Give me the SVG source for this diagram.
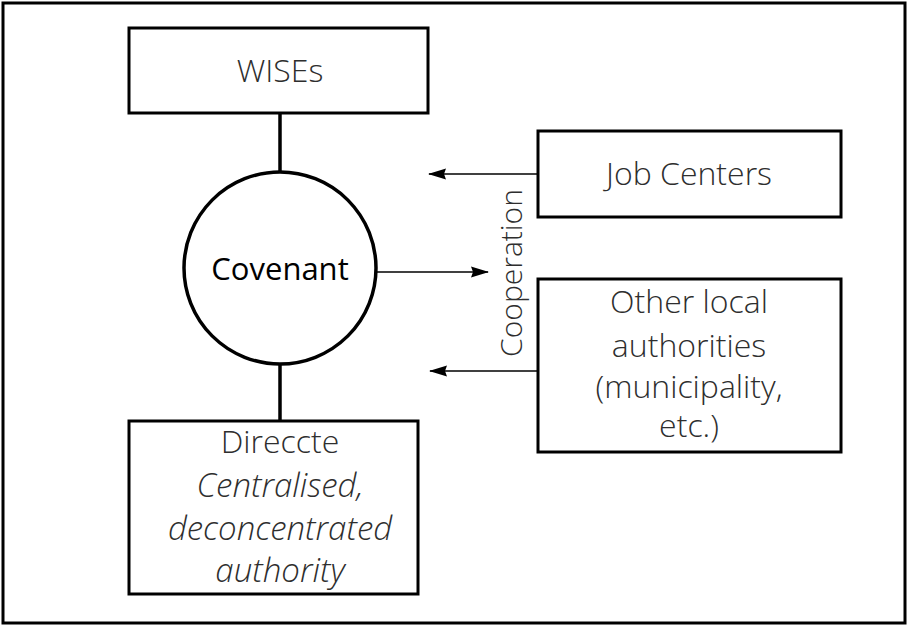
<svg xmlns="http://www.w3.org/2000/svg" width="909" height="626" viewBox="0 0 909 626">
<defs>
<style>
.box{fill:#fff;stroke:#000;stroke-width:3}
.t{font-family:"Open Sans","Liberation Sans",sans-serif;font-weight:300;font-size:32px;fill:#2e2e2e;text-anchor:middle}
.it{font-style:italic;font-size:33px}
.thick{stroke:#000;stroke-width:3.5;fill:none}
.thin{stroke:#000;stroke-width:1.5;fill:none}
</style>
<marker id="ah" viewBox="0 0 18 12" refX="17" refY="6" markerWidth="18" markerHeight="12" markerUnits="userSpaceOnUse" orient="auto">
<path d="M0,0.5 L18,6 L0,11.5 L2,6 z" fill="#000"/>
</marker>
</defs>
<rect x="0" y="0" width="909" height="626" fill="#fff"/>
<rect x="3" y="3" width="902" height="620" fill="none" stroke="#000" stroke-width="3"/>
<g id="connectors">
<line class="thick" x1="280" y1="113" x2="280" y2="172"/>
<line class="thick" x1="280" y1="365" x2="280" y2="421"/>
<line class="thin" x1="538" y1="174" x2="429" y2="174" marker-end="url(#ah)"/>
<line class="thin" x1="376" y1="272" x2="488" y2="272" marker-end="url(#ah)"/>
<line class="thin" x1="538" y1="371" x2="430" y2="371" marker-end="url(#ah)"/>
<text class="t" transform="translate(522,273) rotate(-90)" style="font-size:30px">Cooperation</text>
</g>
<g id="wises">
<rect class="box" x="129" y="28" width="299" height="85"/>
<text class="t" x="280" y="82">WISEs</text>
</g>
<g id="covenant">
<circle class="thick" cx="280" cy="268" r="96" style="fill:#fff"/>
<text x="280" y="280" text-anchor="middle" font-family="'Open Sans','Liberation Sans',sans-serif" font-size="31" font-weight="400" fill="#000">Covenant</text>
</g>
<g id="direccte">
<rect class="box" x="129" y="421" width="289" height="173"/>
<text class="t" x="280" y="453">Direccte</text>
<text class="t it" x="280" y="497">Centralised,</text>
<text class="t it" x="280" y="540">deconcentrated</text>
<text class="t it" x="280" y="582">authority</text>
</g>
<g id="jobcenters">
<rect class="box" x="538" y="131" width="303" height="86"/>
<text class="t" x="689" y="185">Job Centers</text>
</g>
<g id="otherlocal">
<rect class="box" x="538" y="279" width="303" height="173"/>
<text class="t" x="689" y="313">Other local</text>
<text class="t" x="689" y="357">authorities</text>
<text class="t" x="689" y="398">(municipality,</text>
<text class="t" x="689" y="437">etc.)</text>
</g>
</svg>
